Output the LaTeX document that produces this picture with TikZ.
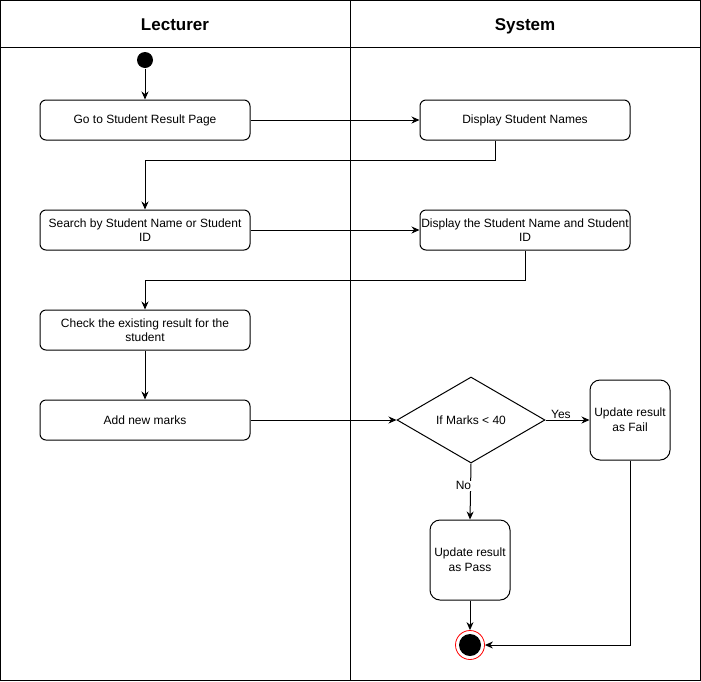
\documentclass[tikz,border=0pt]{standalone}
\usepackage{fontspec}
\setmainfont{Liberation Sans}
\usetikzlibrary{arrows.meta,shapes.geometric}
\begin{document}
\begin{tikzpicture}[x=1pt,y=-1pt,line width=1pt,
  act/.style={draw,rounded corners=6pt,minimum width=210pt,minimum height=40pt,inner sep=1pt,font=\fontsize{12}{14}\selectfont,align=center},
  sq/.style={draw,rounded corners=10pt,minimum width=80pt,minimum height=80pt,inner sep=1pt,font=\fontsize{12}{15}\selectfont,align=center},
  dec/.style={draw,diamond,minimum width=148pt,minimum height=86pt,inner sep=0pt,font=\fontsize{12}{14}\selectfont},
  hdr/.style={font=\fontsize{17}{20}\selectfont\bfseries,anchor=base},
  lbl/.style={font=\fontsize{12}{14}\selectfont},
  arr/.style={-{Stealth[length=8pt,width=7pt]}}]
\useasboundingbox (0,0) rectangle (701,681);
\draw (0.5,0.5) rectangle (700.5,680.5);
\draw (0.5,47) -- (700.5,47);
\draw (350.5,0.5) -- (350.5,680.5);
\node[hdr] (h1) at (175,30.5) {Lecturer};
\node[hdr] (h2) at (525,30.5) {System};
\node[circle,fill=black,minimum size=16pt,inner sep=0pt] (start) at (145,60) {};
\node[act] (a1) at (145,120) {Go to Student Result Page};
\node[act] (s1) at (525,120) {Display Student Names};
\node[act] (a2) at (145,230) {Search by Student Name or Student\\ID};
\node[act] (s2) at (525,230) {Display the Student Name and Student\\ID};
\node[act] (a3) at (145,330) {Check the existing result for the\\student};
\node[act] (a4) at (145,420) {Add new marks};
\node[dec] (d) at (471,420) {If Marks < 40};
\node[sq] (fail) at (630,420) {Update result\\as Fail};
\node[sq] (pass) at (470,560) {Update result\\as Pass};
\node[circle,draw=red,line width=0.8pt,minimum size=29pt,inner sep=0pt] (end) at (470,645) {};
\node[circle,fill=black,minimum size=22pt,inner sep=0pt] (endin) at (470,645) {};
\coordinate (c1) at (495,160);
\coordinate (c2) at (145,160);
\coordinate (c3) at (525,280);
\coordinate (c4) at (145,280);
\draw[arr] (start) -- (a1);
\draw[arr] (a1) -- (s1);
\draw[arr] (s1.south -| c1) -- (c1) -- (c2) -- (a2);
\draw[arr] (a2) -- (s2);
\draw[arr] (s2.south -| c3) -- (c3) -- (c4) -- (a3);
\draw[arr] (a3) -- (a4);
\draw[arr] (a4) -- (d.west);
\draw[arr] (d.east) -- node[lbl,above,pos=0.35,yshift=-2pt] {Yes} (fail.west);
\draw[arr] (d.south) -- node[lbl,left,pos=0.4,xshift=2pt,fill=white,inner sep=1pt] {No} (pass.north);
\draw[arr] (pass) -- (end);
\draw[arr] (fail.south) |- (end.east);
\end{tikzpicture}
\end{document}
